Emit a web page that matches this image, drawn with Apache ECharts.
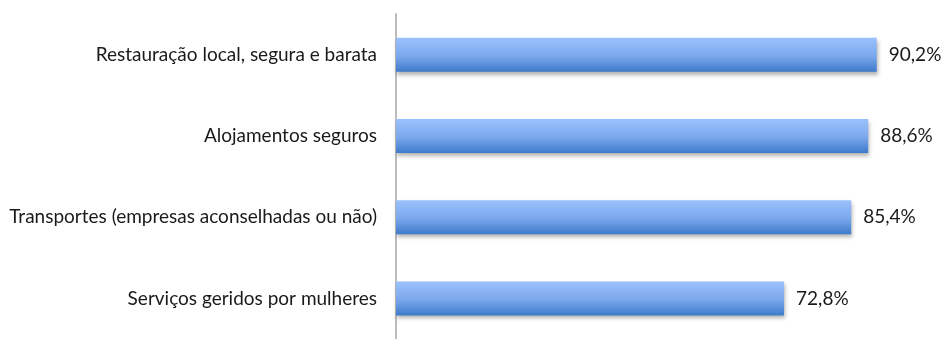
<!DOCTYPE html>
<html>
<head>
<meta charset="utf-8">
<script src="https://cdn.jsdelivr.net/npm/echarts@6/dist/echarts.min.js"></script>
<style>
  html, body { margin: 0; padding: 0; background: #fff; }
  #chart { width: 941px; height: 339px; }
</style>
</head>
<body>
<div id="chart"></div>
<script>
// Categories, top to bottom
const categories = [
  'Restauração local, segura e barata',
  'Alojamentos seguros',
  'Transportes (empresas aconselhadas ou não)',
  'Serviços geridos por mulheres'
];
// Share of respondents (%)
const values = [90.2, 88.6, 85.4, 72.8];

const chart = echarts.init(document.getElementById('chart'));
chart.setOption({
  animation: false,
  grid: { left: 396, right: 12, top: 14, height: 333 },
  xAxis: {
    type: 'value', min: 0, max: 100, show: false
  },
  yAxis: {
    type: 'category',
    data: categories,
    inverse: true,
    axisTick: { show: false },
    axisLine: { lineStyle: { color: '#a6a6a6', width: 1.5 } },
    axisLabel: {
      color: '#1a1a1a', fontFamily: 'Lato', fontSize: 19, margin: 19
    }
  },
  series: [{
    type: 'bar',
    data: values,
    barWidth: 34,
    itemStyle: {
      color: new echarts.graphic.LinearGradient(0, 0, 0, 1, [
        { offset: 0, color: '#9cc2fd' },
        { offset: 0.55, color: '#7aa7ec' },
        { offset: 1, color: '#3e7bcb' }
      ]),
      shadowColor: 'rgba(0,0,0,0.3)',
      shadowBlur: 4,
      shadowOffsetX: 1,
      shadowOffsetY: 3
    },
    label: {
      show: true,
      position: 'right',
      distance: 12,
      color: '#1a1a1a',
      fontFamily: 'Lato',
      fontSize: 19,
      formatter: p => p.value.toFixed(1).replace('.', ',') + '%'
    }
  }]
});
</script>
</body>
</html>
